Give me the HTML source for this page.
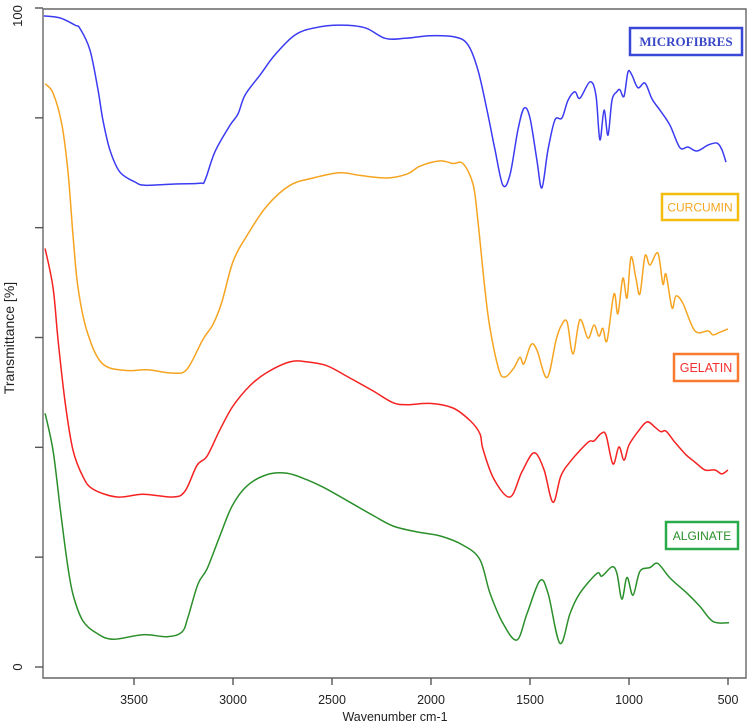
<!DOCTYPE html>
<html><head><meta charset="utf-8"><style>
html,body{margin:0;padding:0;background:#fff;}
svg{display:block;font-family:"Liberation Sans",sans-serif;}
</style></head><body>
<svg id="chart" width="749" height="725" viewBox="0 0 749 725" xmlns="http://www.w3.org/2000/svg">
<g id="frame"></g>
<g id="series"></g>
<g id="labels"></g>
</svg>
<script>
const xTicks = [3500, 3000, 2500, 2000, 1500, 1000, 500];
const yTickVals = [0, 16.667, 33.333, 50, 66.667, 83.333, 100];
const yTickLabels = ["0", "", "", "", "", "", "100"];

const microW = [3955,3874,3798,3773,3722,3682,3657,3621,3571,3495,3444,3293,3167,3141,3091,3015,2975,2939,2864,2788,2687,2586,2460,2333,2232,2131,2005,1879,1813,1763,1717,1677,1637,1601,1561,1530,1500,1465,1440,1409,1374,1339,1308,1273,1248,1197,1167,1147,1126,1106,1086,1061,1046,1025,1005,985,955,919,884,844,793,743,702,657,601,556,531,510];
const microT = [98.8,98.5,97.4,96.9,93.6,87.6,83.0,78.4,75.1,73.6,73.1,73.3,73.4,73.9,78.2,82.2,83.9,86.8,89.8,92.9,95.9,97.0,97.4,97.0,95.4,95.4,95.8,95.6,94.4,90.6,84.5,78.5,73.1,74.7,81.5,84.8,83.3,76.9,72.7,78.5,83.0,83.3,86.0,87.3,86.3,88.8,86.8,80.0,84.5,80.7,86.0,87.3,87.6,86.6,90.3,89.8,87.9,88.6,86.2,84.5,82.2,78.8,78.9,78.3,79.2,79.5,78.5,76.6];

const curW = [3949,3909,3864,3833,3808,3783,3737,3662,3545,3434,3303,3232,3152,3101,3056,3000,2929,2828,2712,2596,2460,2359,2222,2121,2056,1955,1889,1839,1788,1763,1727,1702,1657,1626,1581,1551,1531,1495,1465,1414,1369,1344,1313,1283,1248,1207,1177,1152,1132,1111,1076,1056,1031,1010,990,965,945,919,894,854,829,813,783,763,728,667,601,576,541,500];
const curT = [88.5,87.1,82.3,75.0,65.5,57.6,50.9,46.1,45.0,45.1,44.6,45.2,49.7,52.0,55.4,61.5,65.5,70.0,73.1,74.2,75.0,74.6,74.2,74.8,76.0,76.8,76.4,76.4,73.3,67.7,57.1,51.4,45.1,44.0,45.4,47.0,46.0,48.9,48.1,43.9,49.5,51.7,52.4,47.5,52.7,49.9,51.9,50.2,51.4,49.5,56.6,53.6,59.0,56.0,62.2,59.0,56.6,62.4,61.0,62.8,58.1,59.6,54.5,56.3,55.2,51.0,51.0,50.4,50.8,51.3];

const gelW = [3949,3909,3884,3848,3808,3758,3707,3586,3455,3303,3242,3182,3131,3066,3000,2914,2828,2712,2626,2525,2424,2293,2192,2121,2005,1889,1803,1753,1738,1682,1601,1541,1480,1430,1384,1344,1293,1207,1177,1142,1116,1081,1051,1025,1000,955,909,869,839,813,768,712,667,616,566,531,500];
const gelT = [63.5,57.6,49.7,40.2,32.9,28.9,27.0,25.8,26.2,25.8,26.7,30.6,32.0,36.0,39.6,42.7,44.7,46.3,46.3,45.7,44.1,41.9,40.1,39.8,40.0,39.3,37.4,35.4,33.1,28.5,25.8,29.6,32.5,30.0,25.0,29.0,31.3,34.1,34.3,35.4,35.2,30.8,33.4,31.4,33.7,35.7,37.2,36.4,35.7,35.8,34.1,32.2,31.1,29.9,29.9,29.3,29.9];

const algW = [3949,3909,3874,3838,3808,3758,3687,3606,3455,3333,3258,3227,3177,3131,3066,3005,2929,2828,2727,2626,2546,2409,2293,2192,2071,1955,1839,1753,1702,1636,1566,1515,1450,1409,1349,1298,1248,1162,1137,1086,1061,1036,1010,980,945,894,854,793,707,642,576,495];
const algT = [38.5,32.9,24.4,16.0,11.0,7.0,5.1,4.2,4.9,4.6,5.3,7.6,12.6,14.9,19.9,24.4,27.5,29.2,29.4,28.4,27.3,25.0,23.0,21.4,20.5,19.9,18.5,16.3,11.2,6.6,4.1,8.1,13.1,11.2,3.6,8.1,11.2,14.2,13.8,15.2,14.2,10.3,13.6,10.9,14.5,15.1,15.7,13.5,11.2,9.2,6.9,6.7];

const NS = "http://www.w3.org/2000/svg";
function xs(w){ return 134 + (3500 - w) * 0.198; }
function ys(v){ return 667 - v * 6.59; }
function mk(tag, attrs, parent){
  const e = document.createElementNS(NS, tag);
  for (const k in attrs) e.setAttribute(k, attrs[k]);
  parent.appendChild(e); return e;
}
const frame = document.getElementById('frame');
const ax = mk('path', {d:'M43,9 H746 V678 H43 Z', fill:'none', stroke:'#666', 'stroke-width':1.4}, frame);


xTicks.forEach(t => {
  const x = xs(t);
  const tk = mk('line', {x1:x, x2:x, y1:678, y2:685, stroke:'#555', 'stroke-width':1.4}, frame);
  
  
  const lb = mk('text', {x:x, y:704, 'font-size':12.5, 'text-anchor':'middle', fill:'#222'}, frame);
  lb.textContent = t;
  
  
});
yTickVals.forEach((v, i) => {
  const y = ys(v);
  const tk = mk('line', {x1:35, x2:43, y1:y, y2:y, stroke:'#555', 'stroke-width':1.4}, frame);
  
  
  if (yTickLabels[i]) {
    const cy = Math.max(y, 16);
    const lb = mk('text', {x:0, y:0, 'font-size':13, 'text-anchor':'middle', fill:'#222', transform:'translate(22,'+cy+') rotate(-90)'}, frame);
    lb.textContent = yTickLabels[i];
    
    
  }
});
const xt = mk('text', {x:395, y:721, 'font-size':12.5, 'text-anchor':'middle', fill:'#222'}, frame);
xt.textContent = 'Wavenumber cm-1';


const yt = mk('text', {x:0, y:0, 'font-size':14, 'text-anchor':'middle', fill:'#222', transform:'translate(14,338) rotate(-90)'}, frame);
yt.textContent = 'Transmittance [%]';



function smooth(W, T){
  const p = W.map((w, i) => [xs(w), ys(T[i])]);
  let d = 'M' + p[0][0].toFixed(1) + ',' + p[0][1].toFixed(1);
  for (let i = 0; i < p.length - 1; i++){
    const p0 = p[i-1] || p[i], p1 = p[i], p2 = p[i+1], p3 = p[i+2] || p[i+1];
    const c1 = [p1[0] + (p2[0]-p0[0])/6, p1[1] + (p2[1]-p0[1])/6];
    const c2 = [p2[0] - (p3[0]-p1[0])/6, p2[1] - (p3[1]-p1[1])/6];
    d += 'C' + c1[0].toFixed(1)+','+c1[1].toFixed(1)+' '+c2[0].toFixed(1)+','+c2[1].toFixed(1)+' '+p2[0].toFixed(1)+','+p2[1].toFixed(1);
  }
  return d;
}
const sg = document.getElementById('series');
const s1 = mk('path', {d:smooth(microW, microT), fill:'none', stroke:'#3b3bf2', 'stroke-width':1.5}, sg);


const s2 = mk('path', {d:smooth(curW, curT), fill:'none', stroke:'#f6a420', 'stroke-width':1.5}, sg);


const s3 = mk('path', {d:smooth(gelW, gelT), fill:'none', stroke:'#f52222', 'stroke-width':1.5}, sg);


const s4 = mk('path', {d:smooth(algW, algT), fill:'none', stroke:'#2a8f2a', 'stroke-width':1.5}, sg);



const lg = document.getElementById('labels');
function box(x, y, w, h, stroke, color, text, font, weight, size, name){
  const r = mk('rect', {x:x, y:y, width:w, height:h, fill:'#fff', stroke:stroke, 'stroke-width':2.5}, lg);
  
  
  const t = mk('text', {x:x + w/2, y:y + h/2 + size*0.36, 'font-size':size, 'text-anchor':'middle', fill:color, 'font-family':font, 'font-weight':weight}, lg);
  t.textContent = text;
  
  
}
box(630, 28, 112, 27, '#3a48d8', '#3a48c8', 'MICROFIBRES', '"Liberation Serif",serif', 'bold', 13, 'microfibres');
box(662, 194, 76, 26, '#f5bd10', '#f5a623', 'CURCUMIN', '"Liberation Sans",sans-serif', 'normal', 12, 'curcumin');
box(674, 354, 64, 27, '#f77a30', '#f53030', 'GELATIN', '"Liberation Sans",sans-serif', 'normal', 12.5, 'gelatin');
box(666, 522, 72, 27, '#2aaa4a', '#2a8f2a', 'ALGINATE', '"Liberation Sans",sans-serif', 'normal', 12, 'alginate');
</script>
</body></html>
